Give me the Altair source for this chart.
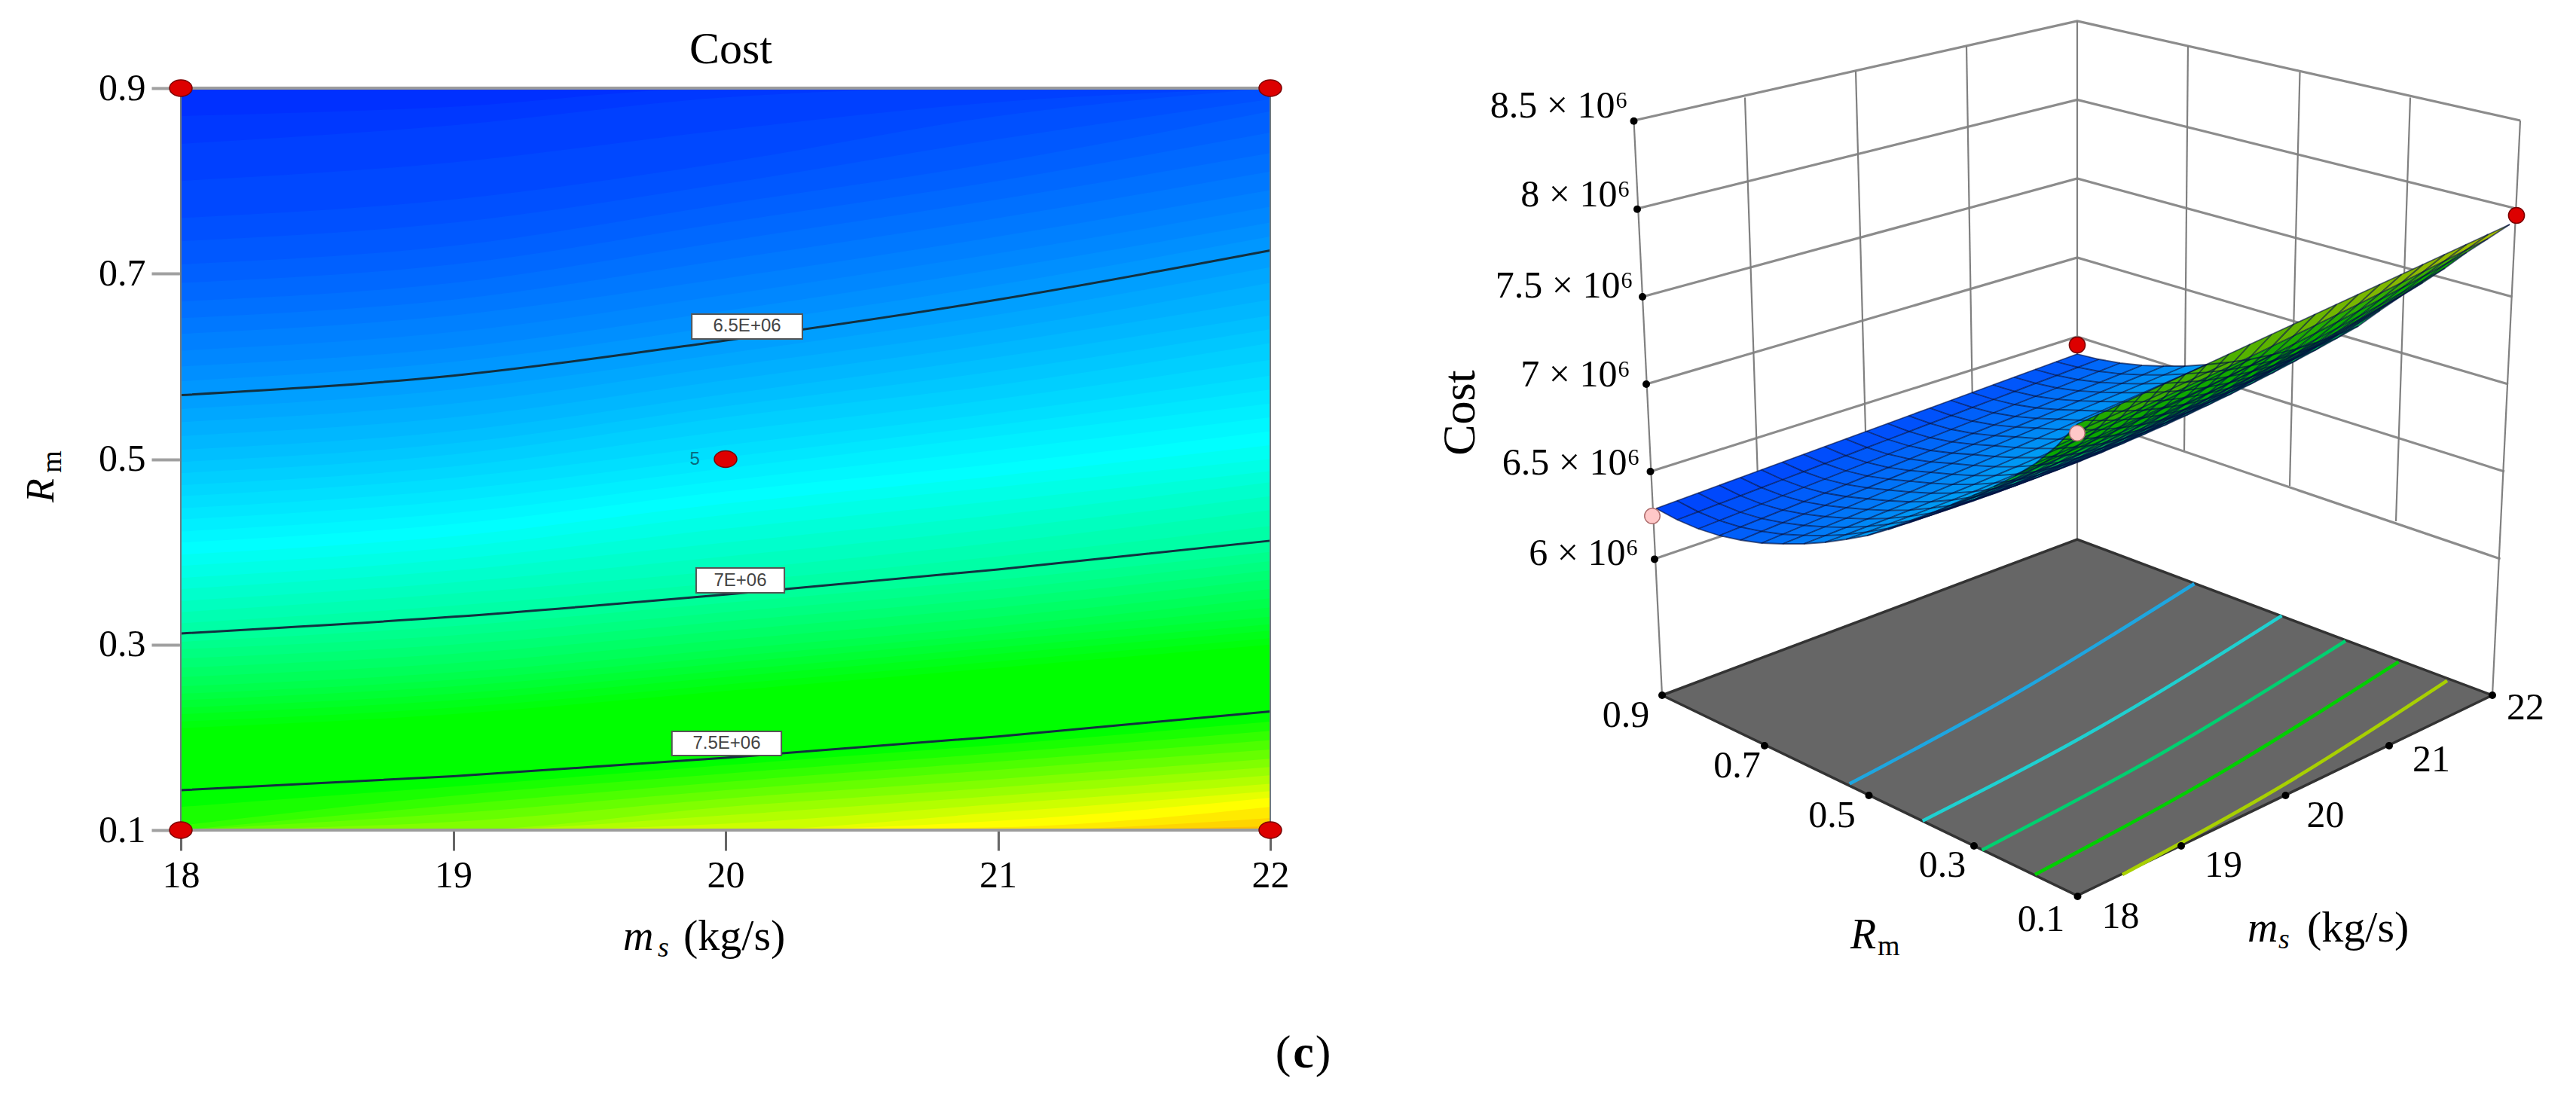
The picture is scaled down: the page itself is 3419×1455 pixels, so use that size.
import altair as alt
import pandas as pd

# ---------- page geometry ----------
W, H, ORG = 3403, 1439, 8
PL, PR, PT, PB = 240, 1686, 117, 1102
SERIF = "Liberation Serif"
SANS = "Liberation Sans"

# ---------- left panel: iso-cost curves ----------
iso_level = [6.15, 6.175, 6.20, 6.225, 6.25, 6.275, 6.30, 6.325, 6.35, 6.375, 6.40, 6.425, 6.45, 6.475, 6.50, 6.525,
             6.55, 6.575, 6.60, 6.625, 6.65, 6.675, 6.70, 6.725, 6.75, 6.775, 6.80, 6.825, 6.85, 6.875, 6.90, 6.925,
             6.95, 6.975, 7.00, 7.025, 7.05, 7.075, 7.10, 7.125, 7.15, 7.175, 7.20, 7.225, 7.25, 7.275, 7.30,
             7.50, 7.55, 7.60, 7.65, 7.70, 7.75, 7.80, 7.85, 7.90, 7.95, 8.00, 8.05, 8.10, 8.15]
iso_r18 = [.90, .87, .84, .80, .76, .735, .71, .69, .67, .652, .635, .617, .60, .584, .569, .554,
           .54, .525, .51, .497, .485, .472, .46, .447, .435, .422, .41, .397, .385, .372, .36, .347,
           .335, .323, .312, .303, .295, .285, .275, .265, .255, .247, .24, .232, .225, .217, .21,
           .143, .125, .105, .10, .10, .10, .10, .10, .10, .10, .10, .10, .10, .10]
iso_r19 = [.90, .88, .86, .82, .78, .755, .73, .71, .69, .672, .655, .637, .62, .605, .590, .575,
           .56, .545, .53, .517, .505, .492, .48, .467, .455, .442, .43, .417, .405, .392, .38, .367,
           .355, .342, .330, .32, .31, .30, .29, .28, .27, .262, .255, .247, .24, .232, .225,
           .158, .147, .137, .127, .118, .109, .10, .10, .10, .10, .10, .10, .10, .10]
iso_r20 = [.90, .90, .89, .855, .82, .797, .775, .755, .735, .715, .695, .677, .66, .644, .628, .614,
           .60, .585, .57, .557, .545, .53, .515, .502, .49, .477, .465, .452, .44, .425, .41, .395,
           .38, .367, .354, .345, .335, .325, .315, .305, .295, .287, .28, .272, .265, .257, .25,
           .178, .170, .161, .152, .143, .134, .125, .116, .107, .10, .10, .10, .10, .10]
iso_r21 = [.90, .90, .90, .885, .87, .845, .82, .80, .78, .76, .74, .722, .705, .688, .672, .656,
           .64, .625, .61, .595, .58, .565, .55, .537, .525, .51, .495, .482, .47, .455, .44, .425,
           .41, .395, .381, .37, .36, .35, .34, .33, .32, .312, .305, .297, .29, .282, .275,
           .201, .192, .183, .174, .165, .155, .146, .137, .128, .119, .11, .103, .10, .10]
iso_r22 = [.90, .90, .90, .90, .90, .888, .875, .852, .83, .81, .79, .772, .755, .74, .725, .707,
           .69, .672, .655, .64, .625, .607, .59, .575, .56, .545, .53, .515, .50, .487, .475, .46,
           .445, .428, .412, .40, .39, .38, .37, .36, .35, .34, .33, .322, .315, .307, .30,
           .228, .217, .207, .197, .187, .177, .168, .159, .15, .142, .135, .125, .113, .104]
iso_x = [18, 19, 20, 21, 22]
contour_levels = [6.50, 7.00, 7.50]

cost_stops = [6.0, 6.8, 7.3, 7.5, 8.0, 8.6]
cost_colors = ["#0000ff", "#00ffff", "#00ff00", "#00ff00", "#ffff00", "#ff0000"]

x_ticks = [18, 19, 20, 21, 22]
y_ticks = [0.1, 0.3, 0.5, 0.7, 0.9]

design_x = [18, 22, 18, 22, 20]
design_r = [0.9, 0.9, 0.1, 0.1, 0.5]

box_text = ["6.5E+06", "7E+06", "7.5E+06"]
box_x0 = [19.876, 19.892, 19.803]
box_x1 = [20.282, 20.216, 20.205]
box_r0 = [.6295, .3558, .1804]
box_r1 = [.6563, .3826, .2064]
box_cx = [20.079, 20.054, 20.004]
box_cr = [.643, .369, .1934]

# ---------- right panel: projected picture positions ----------
wall_left_x = [2168.5, 2173, 2180, 2185, 2190.5, 2196]
wall_right_x = [3345, 3340, 3334.5, 3329, 3324, 3318.6]
wall_y = [160, 277, 394, 510, 626, 742]
back_x = 2757
back_y = [28, 132.5, 237, 342, 447, 551]
vert_top_x = [2316, 2463, 2610, 2904, 3052.5, 3199]
vert_top_y = [129.5, 94, 61, 61, 96, 129.5]
vert_bot_x = [2335, 2478, 2619, 2899, 3039, 3180]
vert_bot_y = [694, 645, 598, 598, 645, 692]
edge_top_x = [2168.5, 2757, 3345]
edge_top_y = [160, 28, 160]
edge_bot_x = [2206, 2757, 3308]
edge_bot_y = [923, 716, 923]
floor_x = [2206, 2757, 3308]
floor_top = [923, 716, 923]
floor_bot = [923, 1189, 923]

floor_lines = {
    "#1ea6e0": [(2454.8, 1040.6), (2680.3, 917.8), (2912.4, 775)],
    "#1fd0d0": [(2551.8, 1089.7), (2788, 964.7), (3028.5, 817.4)],
    "#00d070": [(2630.6, 1128.5), (2871, 999), (3113, 850.9)],
    "#00d000": [(2701, 1161), (2941.4, 1029.4), (3183.5, 878.6)],
    "#a8d000": [(2817, 1161), (3032.6, 1041), (3248, 903.6)],
}

# surface rows R = 0.9 ... 0.1: end at ms = 18 and end at ms = 22
surf_l_x = [2198, 2226, 2254, 2282, 2310, 2338, 2366, 2394, 2422, 2450, 2478, 2506, 2534, 2562, 2590, 2618, 2646, 2674, 2702, 2730, 2757]
surf_l_y = [675, 690, 702, 711, 717, 721, 722, 722, 720, 716, 711, 703, 693, 682, 670, 658, 646, 632, 615, 592, 563]
surf_r_x = [2757, 2786, 2814, 2843, 2872, 2900, 2929, 2958, 2987, 3015, 3044, 3073, 3101, 3130, 3159, 3187, 3216, 3245, 3274, 3302, 3331]
surf_r_y = [470, 477, 482, 485, 486, 486, 484, 481, 477, 471, 464, 455, 445, 433, 412, 393, 375, 356, 335, 317, 298]
surf_sag = [0, 0, 0, 0, 0, 0, 3, 6, 9, 12, 14, 16, 18, 19, 20, 20, 18, 14, 10, 5, 0]
surf_c18 = [6.12, 6.17, 6.21, 6.25, 6.29, 6.33, 6.37, 6.42, 6.48, 6.54, 6.62, 6.70, 6.78, 6.86, 6.94, 7.03, 7.13, 7.24, 7.35, 7.45, 7.60]
surf_c22 = [6.22, 6.28, 6.37, 6.41, 6.48, 6.54, 6.59, 6.65, 6.72, 6.78, 6.85, 6.93, 7.01, 7.11, 7.21, 7.30, 7.35, 7.42, 7.50, 7.80, 8.10]
surf_stops = [6.0, 6.8, 7.3, 7.5, 8.0, 8.3]
surf_colors = ["#0028ff", "#00c8f0", "#00a800", "#10a800", "#b8c000", "#d8c000"]
N_U = 20

red_x, red_y = [2757, 3340], [458, 286]
pink_x, pink_y = [2193, 2757], [685, 575]

dot_x = [2168.5, 2173, 2180, 2185, 2190.5, 2196, 2206, 2342, 2480.5, 2620, 2757.5, 2895, 3033.5, 3171, 3308]
dot_y = [160.7, 277.7, 394, 510, 626, 742.4, 923, 990, 1056, 1123, 1190, 1123, 1056, 990, 923]

z_labels = ["8.5 × 10⁶", "8 × 10⁶", "7.5 × 10⁶", "7 × 10⁶", "6.5 × 10⁶", "6 × 10⁶"]
z_label_x = [2161, 2164, 2168, 2164, 2177, 2175]
z_label_y = [156, 274, 395, 513, 630, 750]
floor_labels = ["0.9", "0.7", "0.5", "0.3", "0.1", "18", "19", "20", "21", "22"]
floor_label_x = [2158, 2305.6, 2431.6, 2578, 2709, 2814.6, 2951, 3086.5, 3227, 3352]
floor_label_y = [950, 1017, 1083, 1149, 1220.5, 1217, 1149, 1083, 1009, 940]

# ---------- scales ----------
kx = (PR - PL) / 4
ky = (PB - PT) / 0.8
x0 = 18 - (PL - ORG) / kx
r_lo = 0.1 - (ORG + H - PB) / ky
r_hi = 0.9 + (PT - ORG) / ky
sx = alt.Scale(domain=[x0, x0 + W / kx], nice=False, zero=False)
sy = alt.Scale(domain=[r_lo, r_hi], nice=False, zero=False)
ix = alt.Scale(domain=[ORG, ORG + W], nice=False, zero=False)
iy = alt.Scale(domain=[ORG + H, ORG], nice=False, zero=False)

x_axis = alt.Axis(values=x_ticks, format="d", title=None, domain=False, grid=False, ticks=True, tickSize=27, tickWidth=3,
                  tickColor="#666666", labelFont=SERIF, labelFontSize=50, labelPadding=8, labelColor="black",
                  offset=-(ORG + H - PB), labelOverlap=False)
y_axis = alt.Axis(values=y_ticks, format=".1f", title=None, domain=False, grid=False, ticks=True, tickSize=39, tickWidth=4,
                  tickColor="#a0a0a0", labelFont=SERIF, labelFontSize=50, labelPadding=8, labelColor="black",
                  offset=-(PL - ORG), labelOverlap=False)
X = alt.X("x:Q", scale=sx, axis=x_axis)
Y = alt.Y("r:Q", scale=sy, axis=y_axis)
IX = alt.X("x:Q", scale=ix, axis=None)
IY = alt.Y("y:Q", scale=iy, axis=None)

# ---------- left panel ----------
iso_cols = [iso_r18, iso_r19, iso_r20, iso_r21, iso_r22]
iso_rows = []
for i, lev in enumerate(iso_level):
    for k, xv in enumerate(iso_x):
        iso_rows.append({"x": xv, "r": iso_cols[k][i], "floor": 0.1, "level": lev, "idx": i})
iso_df = pd.DataFrame(iso_rows)

bands = alt.Chart(iso_df).mark_area(interpolate="monotone", opacity=1, line=False).encode(
    x=X, y=Y, y2="floor:Q", detail="idx:O",
    color=alt.Color("level:Q", scale=alt.Scale(domain=cost_stops, range=cost_colors, interpolate="rgb"), legend=None),
)
contours = alt.Chart(iso_df[iso_df["level"].isin(contour_levels)]).mark_line(
    interpolate="monotone", color="#123040", strokeWidth=3
).encode(x=X, y=Y, detail="idx:O")

frame_h = pd.DataFrame({"x": [18, 18], "x2": [22, 22], "r": [0.9, 0.1]})
frame_v = pd.DataFrame({"x": [18, 22], "r": [0.1, 0.1], "r2": [0.9, 0.9]})
rule_h = alt.Chart(frame_h).mark_rule(color="#9c9c9c", strokeWidth=4).encode(x=X, x2="x2:Q", y=Y)
rule_v = alt.Chart(frame_v).mark_rule(color="#6f7a80", strokeWidth=2).encode(x=X, y=Y, y2="r2:Q")

box_df = pd.DataFrame({"x": box_x0, "x2": box_x1, "r": box_r0, "r2": box_r1, "t": box_text, "cx": box_cx, "cr": box_cr})
boxes = alt.Chart(box_df).mark_rect(fill="white", stroke="#555555", strokeWidth=2).encode(x=X, x2="x2:Q", y=Y, y2="r2:Q")
box_txt = alt.Chart(box_df).mark_text(font=SANS, fontSize=24, color="#444444").encode(
    x=alt.X("cx:Q", scale=sx, axis=x_axis), y=alt.Y("cr:Q", scale=sy, axis=y_axis), text="t:N")

ELLIPSE = "M-1,0A1,0.73 0 1,1 1,0A1,0.73 0 1,1 -1,0Z"
pts = alt.Chart(pd.DataFrame({"x": design_x, "r": design_r})).mark_point(
    shape=ELLIPSE, size=900, filled=True, fill="#dd0000", stroke="#7a0000", strokeWidth=1.5, opacity=1
).encode(x=X, y=Y)
five = alt.Chart(pd.DataFrame({"x": [19.887], "r": [0.5], "t": ["5"]})).mark_text(
    font=SANS, fontSize=24, color="#0a6a80").encode(x=X, y=Y, text="t:N")

left = alt.layer(bands, contours, rule_h, rule_v, boxes, box_txt, pts, five)

# ---------- right panel ----------
def chart_lines(rows, **kw):
    return alt.Chart(pd.DataFrame(rows)).mark_line(**kw).encode(x=IX, y=IY, detail="g:N", order="i:Q")

h_rows = []
for k in range(6):
    for i, (a, b) in enumerate([(wall_left_x[k], wall_y[k]), (back_x, back_y[k]), (wall_right_x[k], wall_y[k])]):
        h_rows.append({"g": f"h{k}", "i": i, "x": a, "y": b})
v_rows = []
for k in range(6):
    v_rows += [{"g": f"v{k}", "i": 0, "x": vert_top_x[k], "y": vert_top_y[k]},
               {"g": f"v{k}", "i": 1, "x": vert_bot_x[k], "y": vert_bot_y[k]}]
for k in range(3):
    v_rows += [{"g": f"e{k}", "i": 0, "x": edge_top_x[k], "y": edge_top_y[k]},
               {"g": f"e{k}", "i": 1, "x": edge_bot_x[k], "y": edge_bot_y[k]}]
walls_h = chart_lines(h_rows, color="#8c8c8c", strokeWidth=3.2)
walls_v = chart_lines(v_rows, color="#808080", strokeWidth=2.2)

floor_area = alt.Chart(pd.DataFrame({"x": floor_x, "y": floor_top, "y2": floor_bot})).mark_area(
    color="#666666", opacity=1, line=False).encode(x=IX, y=IY, y2="y2:Q")
fe = []
ring = [(2206, 923), (2757, 716), (3308, 923), (2757, 1189), (2206, 923)]
for i, (a, b) in enumerate(ring):
    fe.append({"g": "f", "i": i, "x": a, "y": b})
floor_edge = chart_lines(fe, color="#333333", strokeWidth=3.5)

fl_layers = []
for col, line in floor_lines.items():
    fl_layers.append(chart_lines([{"g": "c", "i": i, "x": a, "y": b} for i, (a, b) in enumerate(line)],
                                 color=col, strokeWidth=4.5, interpolate="natural"))


def node(j, u):
    t = u / N_U
    return (surf_l_x[j] + (surf_r_x[j] - surf_l_x[j]) * t,
            surf_l_y[j] + (surf_r_y[j] - surf_l_y[j]) * t + surf_sag[j] * 4 * t * (1 - t))


def cost_at(j, u):
    t = u / N_U
    return surf_c18[j] + (surf_c22[j] - surf_c18[j]) * t


def quad_rows(q):
    xs = sorted({round(p[0], 3) for p in q})
    out = []
    for xv in xs:
        ys = []
        for a, b in zip(q, q[1:] + q[:1]):
            lo, hi = min(a[0], b[0]), max(a[0], b[0])
            if lo - 1e-3 <= xv <= hi + 1e-3:
                if abs(b[0] - a[0]) < 1e-6:
                    ys += [a[1], b[1]]
                else:
                    ys.append(a[1] + (b[1] - a[1]) * (xv - a[0]) / (b[0] - a[0]))
        out.append((xv, min(ys), max(ys)))
    return out


cell_rows = []
cid = 0
for j in range(20):
    for u in range(N_U):
        q = [node(j, u), node(j, u + 1), node(j + 1, u + 1), node(j + 1, u)]
        c = (cost_at(j, u) + cost_at(j, u + 1) + cost_at(j + 1, u) + cost_at(j + 1, u + 1)) / 4
        for xv, a, b in quad_rows(q):
            cell_rows.append({"x": round(xv, 2), "y": round(a, 2), "y2": round(b, 2), "c": round(c, 3), "cell": cid})
        cid += 1
cells = alt.Chart(pd.DataFrame(cell_rows)).mark_area(opacity=1, line=False).encode(
    x=IX, y=IY, y2="y2:Q", detail="cell:O",
    color=alt.Color("c:Q", scale=alt.Scale(domain=surf_stops, range=surf_colors, interpolate="rgb"), legend=None),
)
mesh_rows = []
for j in range(21):
    for u in range(N_U + 1):
        a, b = node(j, u)
        mesh_rows.append({"g": f"r{j}", "i": u, "x": round(a, 2), "y": round(b, 2)})
for u in range(N_U + 1):
    for j in range(21):
        a, b = node(j, u)
        mesh_rows.append({"g": f"u{u}", "i": j, "x": round(a, 2), "y": round(b, 2)})
mesh = chart_lines(mesh_rows, color="#001040", strokeWidth=1.8, opacity=0.65)

dots = alt.Chart(pd.DataFrame({"x": dot_x, "y": dot_y})).mark_circle(size=100, color="black", opacity=1).encode(x=IX, y=IY)
reds = alt.Chart(pd.DataFrame({"x": red_x, "y": red_y})).mark_circle(size=450, color="#dd0000", opacity=1, stroke="#7a0000", strokeWidth=1.5).encode(x=IX, y=IY)
pinks = alt.Chart(pd.DataFrame({"x": pink_x, "y": pink_y})).mark_circle(size=420, color="#ffc8c8", opacity=1, stroke="#b07070", strokeWidth=1.5).encode(x=IX, y=IY)


def texts(items, size, align="center", baseline="alphabetic", font=SERIF, style="normal", weight="normal", angle=0):
    df = pd.DataFrame(items, columns=["t", "x", "y"])
    return alt.Chart(df).mark_text(font=font, fontSize=size, align=align, baseline=baseline, fontStyle=style,
                                   fontWeight=weight, angle=angle, color="black").encode(x=IX, y=IY, text="t:N")


labels = [
    texts(list(zip(z_labels, z_label_x, z_label_y)), 50, align="right"),
    texts(list(zip(floor_labels, floor_label_x, floor_label_y)), 50, baseline="middle"),
    texts([("Cost", 970, 84)], 60),
    texts([("Cost", 1938, 548)], 62, baseline="middle", angle=270),
    texts([("R", 55, 651)], 52, baseline="middle", style="italic", angle=270),
    texts([("m", 70, 613)], 38, baseline="middle", angle=270),
    texts([("m", 827, 1261), ("m", 2983, 1250)], 56, align="left", style="italic"),
    texts([("s", 873, 1270), ("s", 3024, 1259)], 38, align="left", style="italic"),
    texts([("(kg/s)", 907, 1261), ("(kg/s)", 3062, 1250)], 58, align="left"),
    texts([("R", 2456, 1259)], 56, align="left", style="italic"),
    texts([("m", 2492, 1268)], 38, align="left"),
    texts([("(", 1703, 1417), (")", 1756, 1417)], 62),
    texts([("c", 1730, 1417)], 62, weight="bold"),
]

right = alt.layer(walls_h, walls_v, floor_area, floor_edge, *fl_layers, cells, mesh, reds, pinks, dots, *labels)

chart = alt.layer(left, right).resolve_scale(x="independent", y="independent", color="independent").properties(
    width=W, height=H, padding=0, autosize=alt.AutoSizeParams(type="none"), background="white"
).configure_view(strokeWidth=0)

chart.save("out.html", embed_options={"renderer": "svg", "actions": False})
